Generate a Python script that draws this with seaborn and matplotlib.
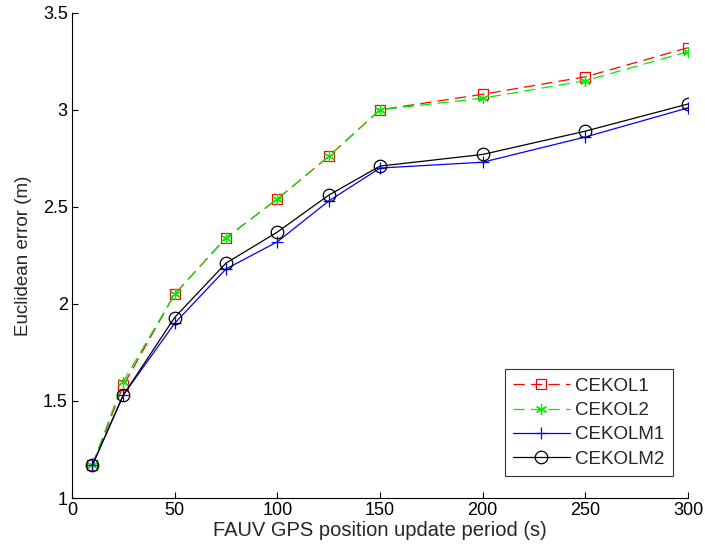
import matplotlib
matplotlib.use("Agg")
import matplotlib.pyplot as plt
import seaborn as sns
import pandas as pd

period = [10, 25, 50, 75, 100, 125, 150, 200, 250, 300]
cekol1 = [1.17, 1.58, 2.05, 2.34, 2.54, 2.76, 3.00, 3.08, 3.17, 3.32]
cekol2 = [1.17, 1.60, 2.05, 2.34, 2.54, 2.76, 3.00, 3.06, 3.15, 3.30]
cekolm1 = [1.17, 1.53, 1.90, 2.18, 2.32, 2.53, 2.70, 2.73, 2.86, 3.01]
cekolm2 = [1.17, 1.53, 1.93, 2.21, 2.37, 2.56, 2.71, 2.77, 2.89, 3.03]
x_ticks = [0, 50, 100, 150, 200, 250, 300]
y_ticks = [1, 1.5, 2, 2.5, 3, 3.5]
y_tick_labels = ["1", "1.5", "2", "2.5", "3", "3.5"]

sns.set_theme(style="ticks")
plt.rcParams["font.family"] = ["Liberation Sans", "DejaVu Sans"]
plt.rcParams["font.size"] = 13

fig = plt.figure(figsize=(7.05, 5.54), dpi=100)
ax = fig.add_axes([0.102, 0.101, 0.874, 0.876])

series = [
    ("CEKOL1", cekol1, "#ff0000", "s", (0, (9, 5)), 7),
    ("CEKOL2", cekol2, "#00ee00", (6, 2, 0), (0, (9, 5)), 8),
    ("CEKOLM1", cekolm1, "#0000ff", "+", "-", 9),
    ("CEKOLM2", cekolm2, "#000000", "o", "-", 9),
]

for name, vals, color, marker, ls, ms in series:
    df = pd.DataFrame({"period": period, "error": vals})
    sns.lineplot(data=df, x="period", y="error", ax=ax, color=color,
                 linestyle=ls, linewidth=0.9, marker=marker, markersize=ms,
                 markerfacecolor="none", markeredgecolor=color,
                 markeredgewidth=0.9, label=name)

ax.set_xlim(0, 300)
ax.set_ylim(1, 3.5)
ax.set_xticks(x_ticks)
ax.set_xticklabels([str(t) for t in x_ticks])
ax.set_yticks(y_ticks)
ax.set_yticklabels(y_tick_labels)
ax.tick_params(direction="in", length=4, width=0.8, labelsize=13,
               colors="black", pad=3)
sns.despine(ax=ax)
for s in ("left", "bottom"):
    ax.spines[s].set_linewidth(0.8)
    ax.spines[s].set_color("black")

ax.set_xlabel("FAUV GPS position update period (s)", fontsize=14.5, labelpad=1)
ax.set_ylabel("Euclidean error (m)", fontsize=13.5, labelpad=8)

leg = ax.legend(loc="lower right", bbox_to_anchor=(673 / 705, 78 / 554),
                bbox_transform=fig.transFigure, borderaxespad=0,
                frameon=True, fancybox=False, edgecolor="black",
                fontsize=13.5, handlelength=3.0, borderpad=0.45,
                labelspacing=0.38, handletextpad=0.3)
leg.get_frame().set_linewidth(0.8)

fig.savefig("out.png", dpi=100, facecolor="white")
